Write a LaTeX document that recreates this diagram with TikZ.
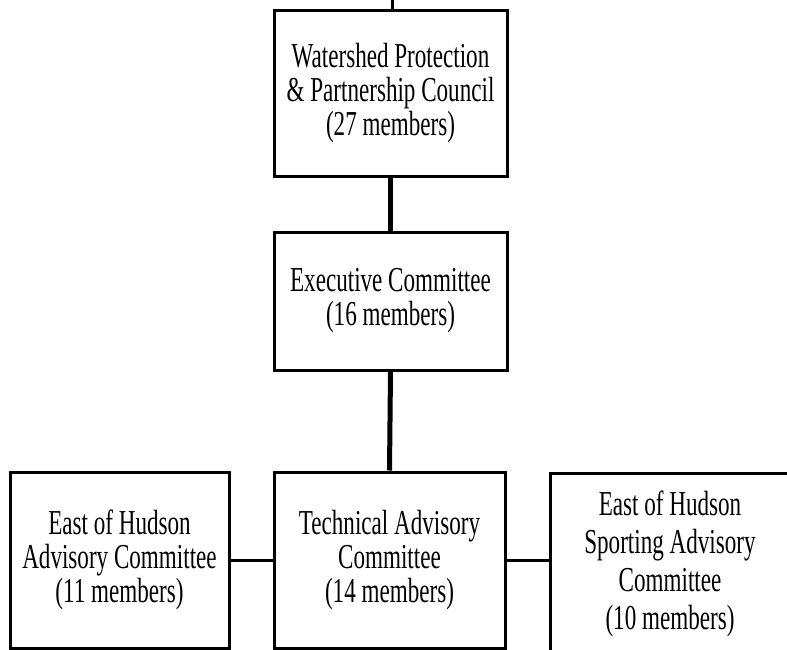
\documentclass[tikz,border=0pt]{standalone}
\usepackage{fontspec}
\setmainfont{Liberation Serif}[FakeStretch=0.66]
\begin{document}
\begin{tikzpicture}[x=1pt,y=-1pt,
  box/.style={draw, line width=3pt, align=center, inner sep=0pt,
    font=\fontsize{35}{34}\selectfont},
  conn/.style={line width=5pt},
  thinconn/.style={line width=3pt}]
\useasboundingbox (0,0) rectangle (787,650);
\clip (0,0) rectangle (787,650);
\node[box, minimum width=233pt, minimum height=165pt] (top) at (390.5,93.5)
  {Watershed Protection\\\& Partnership Council\\(27 members)};
\node[box, minimum width=233pt, minimum height=138pt] (exec) at (390.5,301)
  {Executive Committee\\(16 members)};
\node[box, minimum width=219pt, minimum height=176pt] (left) at (119.5,560)
  {East of Hudson\\Advisory Committee\\(11 members)};
\node[box, minimum width=231pt, minimum height=176pt] (mid) at (389.5,560)
  {Technical Advisory\\Committee\\(14 members)};
\node[box, minimum width=240pt, minimum height=184pt] (right) at (670,565)
  {\raisebox{14pt}{\fontsize{35}{38}\selectfont\begin{tabular}{@{}c@{}}East of Hudson\\Sporting Advisory\\Committee\\(10 members)\end{tabular}}};
\coordinate (topend) at (392,0);
\draw[thinconn] (topend) -- (topend |- top.north);
\draw[conn] (top.south) -- (exec.north);
\draw[conn] (exec.south) -- (mid.north);
\draw[thinconn] (left.east) -- (mid.west);
\draw[thinconn] (mid.east) -- (mid.east -| right.west);
\end{tikzpicture}
\end{document}
